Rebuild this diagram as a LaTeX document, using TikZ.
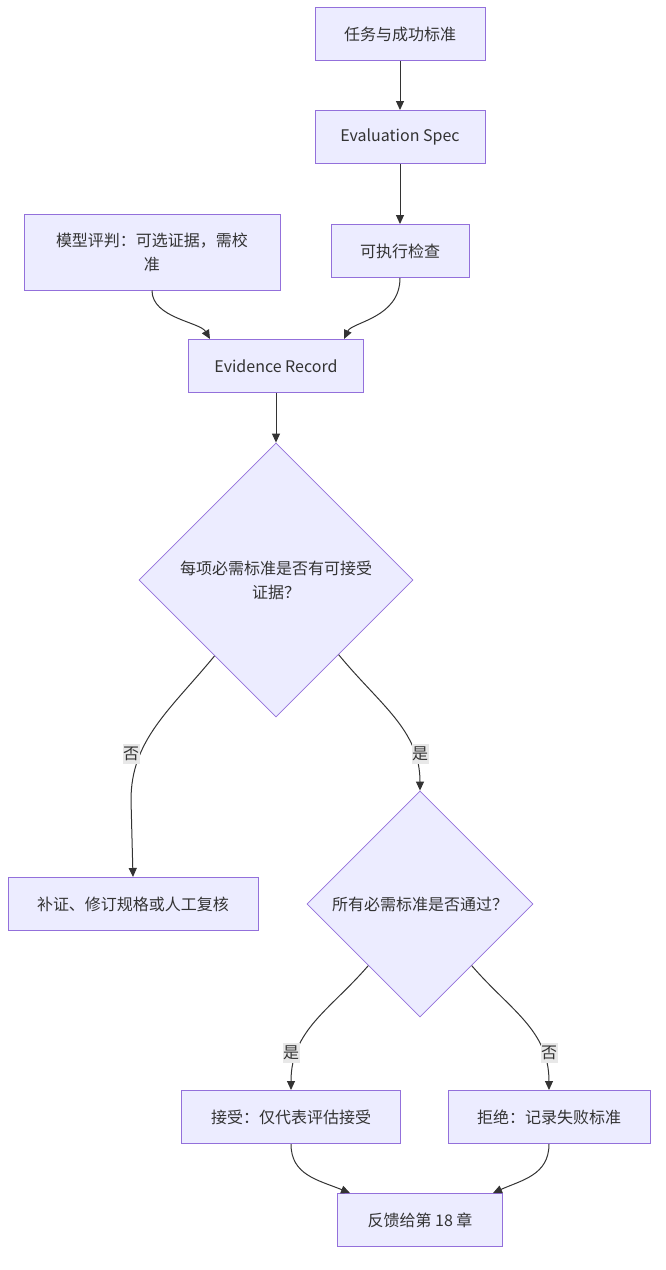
\documentclass[tikz,border=0pt]{standalone}
\usepackage{fontspec}
\setmainfont{Noto Sans CJK SC}
\usetikzlibrary{shapes.geometric,arrows.meta}

\definecolor{boxfill}{HTML}{ECECFF}
\definecolor{boxline}{HTML}{9370DB}
\definecolor{edgecol}{HTML}{333333}
\definecolor{lblfill}{HTML}{E8E8E8}

\begin{document}
\begin{tikzpicture}[x=1pt,y=-1pt,
  every node/.style={font=\fontsize{16}{24}\selectfont, text=edgecol},
  box/.style={draw=boxline, fill=boxfill, line width=1pt, minimum height=53pt, inner sep=0pt, align=center},
  decide/.style={diamond, aspect=1, draw=boxline, fill=boxfill, line width=0.8pt, inner sep=0pt, align=center},
  lbl/.style={fill=lblfill, inner xsep=0.5pt, inner ysep=3pt},
  flow/.style={draw=edgecol, line width=1pt, -{Triangle[length=9pt,width=8pt]}}]
\def\xm{400};
\def\xl{152};
\def\xe{276};

\useasboundingbox (0,0) rectangle (666,1270);

\node[box, minimum width=170pt] (task) at (\xm, 34) {任务与成功标准};
\node[box, minimum width=170pt] (spec) at (\xm, 137) {Evaluation Spec};
\node[box, minimum width=138pt] (check) at (\xm, 251) {可执行检查};
\node[box, minimum width=256pt, minimum height=76pt] (judge) at (\xl, 252) {模型评判：可选证据，需校\\准};
\node[box, minimum width=175pt] (ev) at (\xe, 366) {Evidence Record};

\node[decide, minimum width=274pt, minimum height=274pt] (q1) at (\xe, 580) {每项必需标准是否有可接受\\证据？};
\node[box, minimum width=250pt] (more) at (133, 904) {补证、修订规格或人工复核};
\node[decide, minimum width=226pt, minimum height=226pt] (q2) at (420, 904) {所有必需标准是否通过？};

\node[box, minimum width=219pt] (acc) at (291, 1117) {接受：仅代表评估接受};
\node[box, minimum width=202pt] (rej) at (549, 1117) {拒绝：记录失败标准};
\node[box, minimum width=165pt] (fb) at (420, 1220) {反馈给第 18 章};

\draw[flow] (task) -- (spec);
\draw[flow] (spec) -- (check);
\draw[flow] (judge.south) .. controls (\xl, 318) and (200, 322) .. ([xshift=22pt]ev.north west);
\draw[flow] (check.south) .. controls (\xm, 318) and (352, 322) .. ([xshift=-20pt]ev.north east);
\draw[flow] (ev) -- (q1);

\draw[flow] (q1.231) .. controls (170, 710) and (131, 740) .. (131, 800) -- (more.north);
\draw[flow] (q1.-50) .. controls (380, 705) and (420, 730) .. (q2.north);
\draw[flow] (q2.230) .. controls (330, 1010) and (291, 1030) .. (acc.north);
\draw[flow] (q2.-50) .. controls (510, 1010) and (549, 1030) .. (rej.north);

\draw[flow] (acc.south) .. controls (291, 1175) and (318, 1180) .. ([xshift=13pt]fb.north west);
\draw[flow] (rej.south) .. controls (549, 1175) and (522, 1180) .. ([xshift=-10pt]fb.north east);

\node[lbl] (no1) at (131, 754) {否};
\node[lbl] (yes1) at (420, 754) {是};
\node[lbl] (yes2) at (291, 1053) {是};
\node[lbl] (no2) at (549, 1053) {否};

\end{tikzpicture}
\end{document}
